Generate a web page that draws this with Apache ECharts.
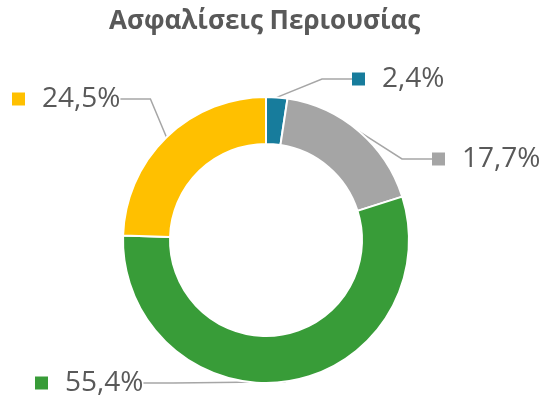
<!DOCTYPE html>
<html>
<head>
<meta charset="utf-8">
<script src="https://cdn.jsdelivr.net/npm/echarts@6/dist/echarts.min.js"></script>
<style>
	html, body { margin: 0; padding: 0; background: #fff; }
	#main { width: 544px; height: 400px; }
</style>
</head>
<body>
<div id="main"></div>
<script>
// 数据
var categories = ['Κατηγορία 1', 'Κατηγορία 2', 'Κατηγορία 3', 'Κατηγορία 4'];
var values = [2.4, 17.7, 55.4, 24.5];
var colors = ['#177c9c', '#a5a5a5', '#389c38', '#ffc000'];

// 标签位置
var labelPos = [
	{ x: 352, y: 79 },
	{ x: 432, y: 159 },
	{ x: 35, y: 383 },
	{ x: 12, y: 99 }
];

var chart = echarts.init(document.getElementById('main'));

var rich = {
	v : { fontFamily: 'Open Sans', fontSize: 28, color: '#595959', padding: [0, 0, 0, 17] }
};
colors.forEach(function(c, i) {
	rich['m' + i] = { width: 13, height: 13, backgroundColor: c };
});

var option = {
	backgroundColor : '#fff',
	title : {
		text : 'Ασφαλίσεις Περιουσίας',
		left : 104,
		top : 4,
		textStyle : {
			fontFamily : 'Open Sans',
			fontWeight : 'bold',
			fontSize : 26,
			color : '#595959'
		}
	},
	series : [ {
		type : 'pie',
		center : [ 266, 240 ],
		radius : [ 96, 143 ],
		startAngle : 90,
		clockwise : true,
		animation : false,
		itemStyle : {
			borderColor : '#fff',
			borderWidth : 2
		},
		label : {
			show : true,
			position : 'outside',
			formatter : function(p) {
				return '{m' + p.dataIndex + '|}{v|' + p.value.toFixed(1).replace('.', ',') + '%}';
			},
			rich : rich
		},
		labelLine : {
			show : true,
			lineStyle : { color : '#a6a6a6', width : 1.5 }
		},
		labelLayout : function(params) {
			var p = labelPos[params.dataIndex];
			return { x: p.x, y: p.y, align: 'left', verticalAlign: 'middle' };
		},
		data : categories.map(function(name, i) {
			return { name: name, value: values[i], itemStyle: { color: colors[i] } };
		})
	} ]
};
chart.setOption(option);
</script>
</body>
</html>
